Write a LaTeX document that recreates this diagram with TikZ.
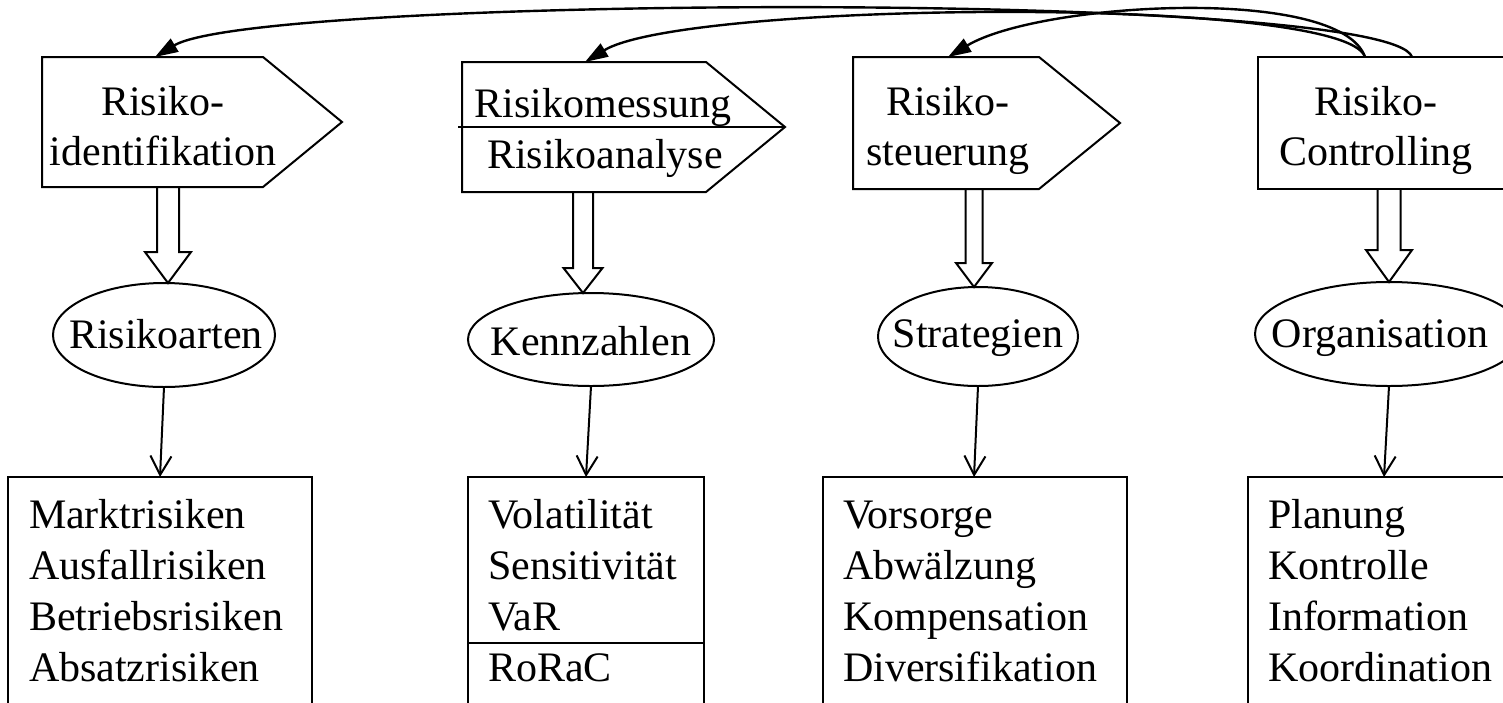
\documentclass[tikz,border=0pt]{standalone}
\usepackage{fontspec}
\setmainfont{Liberation Serif}
\usetikzlibrary{arrows.meta,calc,shapes.geometric}

% hollow block arrow pointing down onto the top of a node:
% #1 target node, #2 x shift of the tip, #3 shaft top (offset from tip),
% #4 shaft half width, #5 head half width, #6 head length
\newcommand{\blockarrow}[6]{%
  \draw[hollow] ($(#1.north)+(#2-#4,#3)$) -- ($(#1.north)+(#2-#4,-#6)$)
    -- ($(#1.north)+(#2-#5,-#6)$) -- ($(#1.north)+(#2,0)$)
    -- ($(#1.north)+(#2+#5,-#6)$) -- ($(#1.north)+(#2+#4,-#6)$)
    -- ($(#1.north)+(#2+#4,#3)$);}

\begin{document}
\begin{tikzpicture}[x=0.5pt,y=-0.5pt,
  line width=1pt, line join=miter,
  every node/.style={font=\fontsize{21pt}{25.5pt}\selectfont, inner sep=0pt, outer sep=0pt},
  stage/.style={draw, fill=white},
  txt/.style={anchor=base},
  item/.style={anchor=base west},
  oval/.style={draw, ellipse, inner sep=0pt},
  hollow/.style={draw, fill=white},
  feed/.style={line width=1.2pt, -{Triangle[length=11.5pt,width=7.5pt]}},
  down/.style={-{Straight Barb[length=9.5pt,width=10.5pt]}},
]
\clip (0,0) rectangle (1503,702);
\fill[white] (0,0) rectangle (1503,702);

% ---- ellipses (categories) ----
\node[oval, minimum width=111pt, minimum height=52pt]   (e1) at (164,335)   {};
\node[oval, minimum width=123pt, minimum height=46.5pt] (e2) at (591,339.5) {};
\node[oval, minimum width=100pt, minimum height=49.5pt] (e3) at (978,336.5) {};
\node[oval, minimum width=134pt, minimum height=52pt]   (e4) at (1389,334)  {};
\node[txt] (e1t) at (166,348)  {Risikoarten};
\node[txt] (e2t) at (591,355)  {Kennzahlen};
\node[txt] (e3t) at (978,347)  {Strategien};
\node[txt] (e4t) at (1380,347) {Organisation};

% ---- hollow arrows from the process steps to the categories ----
\blockarrow{e1}{4}{-95}{11}{23}{31}
\blockarrow{e2}{-8}{-101}{10}{19.5}{25}
\blockarrow{e3}{-4}{-97}{8.5}{18}{24}
\blockarrow{e4}{0}{-93}{11.5}{23}{32}

% ---- process steps ----
\draw[stage] (42,57) -- (263,57) -- (342,122) -- (263,187) -- (42,187) -- cycle;
\node[txt] (s1a) at (163,115) {Risiko-};
\node[txt] (s1b) at (163,165) {identifikation};

\draw[stage] (462,62) -- (706,62) -- (785,127) -- (706,192) -- (462,192) -- cycle;
\draw (458,127) -- (785,127);
\node[txt] (s2a) at (603,117) {Risikomessung};
\node[txt] (s2b) at (605,168) {Risikoanalyse};

\draw[stage] (853,57) -- (1039,57) -- (1120,123) -- (1039,189) -- (853,189) -- cycle;
\node[txt] (s3a) at (948,115) {Risiko-};
\node[txt] (s3b) at (948,165) {steuerung};

\draw[stage] (1530,189) -- (1258,189) -- (1258,57) -- (1530,57);
\node[txt] (s4a) at (1376,115) {Risiko-};
\node[txt] (s4b) at (1376,165) {Controlling};

% ---- feedback loop from controlling back to the earlier steps ----
\coordinate (f4a) at (1412,57);
\coordinate (f4b) at (1365,57);
\coordinate (f1) at (155,57);
\coordinate (f2) at (585,62);
\coordinate (f3) at (948,57);
\draw[feed] (f4a) .. controls (1390,-10) and (258,-5) .. (f1);
\draw[feed] (f4b) .. controls (1345,-5) and (685,1) .. (f2);
\draw[feed] (f4b) .. controls (1340,-15) and (1040,2) .. (f3);

% ---- detail lists ----
\draw (8,720) -- (8,477) -- (312,477) -- (312,720);
\draw (468,720) -- (468,477) -- (704,477) -- (704,720);
\draw (468,643) -- (704,643);
\draw (823,720) -- (823,477) -- (1127,477) -- (1127,720);
\draw (1248,720) -- (1248,477) -- (1530,477);

\coordinate (k1) at (160,477);
\coordinate (k2) at (586,477);
\coordinate (k3) at (974,477);
\coordinate (k4) at (1384,477);
\draw[down] (e1.south) -- (k1);
\draw[down] (e2.south) -- (k2);
\draw[down] (e3.south) -- (k3);
\draw[down] (e4.south) -- (k4);

\foreach \t [count=\i] in {Marktrisiken,Ausfallrisiken,Betriebsrisiken,Absatzrisiken}
  \node[item] (a\i) at (29,{477+51*\i}) {\t};
\foreach \t [count=\i] in {Volatilität,Sensitivität,VaR,RoRaC}
  \node[item] (b\i) at (488,{477+51*\i}) {\t};
\foreach \t [count=\i] in {Vorsorge,Abwälzung,Kompensation,Diversifikation}
  \node[item] (c\i) at (843,{477+51*\i}) {\t};
\foreach \t [count=\i] in {Planung,Kontrolle,Information,Koordination}
  \node[item] (d\i) at (1268,{477+51*\i}) {\t};
\end{tikzpicture}
\end{document}
